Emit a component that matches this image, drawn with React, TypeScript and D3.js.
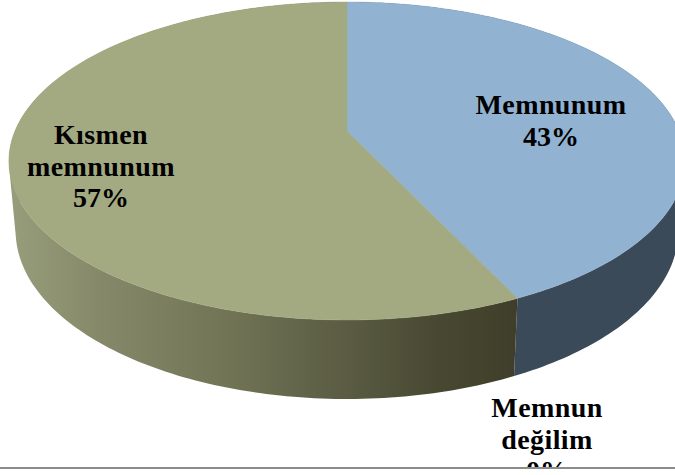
import React from "react";
import * as d3 from "d3";

const categories = ["Memnunum", "Memnun değilim", "Kısmen memnunum"];
const values = [43, 0, 57];
const percentLabels = ["43%", "0%", "57%"];
const labelLines = [["Memnunum"], ["Memnun", "değilim"], ["Kısmen", "memnunum"]];

const W = 675;
const H = 475;
const cx = 347;
const topY = 131;
const A = 332;
const B = 153.3;
const K = 0.1887;
const bottomScaleX = 0.98;
const bottomScaleY = 1.057;
const bottomY = 199.3;

const labelAnchors = [
  { x: 551, y: 114 },
  { x: 547, y: 417 },
  { x: 101, y: 144 },
];
const lineGap = 31.7;

function project(theta: number, y0: number, sx: number, sy: number): [number, number] {
  const u = Math.sin(theta);
  const v = Math.cos(theta);
  const d = 1 + K * v;
  return [cx + (sx * A * u) / d, y0 - (sy * B * v) / d];
}

function angles(a0: number, a1: number) {
  const n = Math.max(2, Math.ceil(((a1 - a0) / (2 * Math.PI)) * 360));
  return d3.range(n + 1).map((i) => a0 + ((a1 - a0) * i) / n);
}

const line = d3.line();

// The wall is the union of small quads swept between the top rim and the bottom rim.
function wallPath(a0: number, a1: number) {
  const ts = angles(a0, a1);
  const parts: string[] = [];
  for (let i = 0; i < ts.length - 1; i++) {
    const quad: [number, number][] = [
      project(ts[i], topY, 1, 1),
      project(ts[i + 1], topY, 1, 1),
      project(ts[i + 1], bottomY, bottomScaleX, bottomScaleY),
      project(ts[i], bottomY, bottomScaleX, bottomScaleY),
    ];
    if (d3.polygonArea(quad) < 0) quad.reverse();
    parts.push(line(quad) + "Z");
  }
  return parts.join("");
}

export default function App() {
  const arcs = d3.pie<number>().sort(null).startAngle(0).endAngle(2 * Math.PI)(values);
  const topFill = ["#91b2d1", "#a05a58", "#a3aa82"];
  const wallFill = ["#3a4a58", "#5a3030", "url(#oliveWall)"];

  return (
    <svg
      width={W}
      height={H}
      viewBox={`0 0 ${W} ${H}`}
      style={{ position: "absolute", left: 0, top: 0, display: "block", background: "#fff" }}
    >
      <defs>
        <linearGradient id="oliveWall" gradientUnits="userSpaceOnUse" x1="12" y1="0" x2="516" y2="0">
          <stop offset="0" stopColor="#979c7a" />
          <stop offset="0.175" stopColor="#858969" />
          <stop offset="0.4" stopColor="#747757" />
          <stop offset="0.6" stopColor="#606248" />
          <stop offset="0.85" stopColor="#484832" />
          <stop offset="1" stopColor="#3e3e2a" />
        </linearGradient>
      </defs>
      {arcs.map((a, i) =>
        a.endAngle > a.startAngle ? (
          <path key={`wall-${categories[i]}`} fill={wallFill[i]} d={wallPath(a.startAngle, a.endAngle)} />
        ) : null
      )}
      {arcs.map((a, i) =>
        a.endAngle > a.startAngle ? (
          <path
            key={`top-${categories[i]}`}
            fill={topFill[i]}
            stroke={topFill[i]}
            strokeWidth={0.5}
            d={
              line([
                [cx, topY],
                ...angles(a.startAngle, a.endAngle).map((t) => project(t, topY, 1, 1)),
              ]) + "Z"
            }
          />
        ) : null
      )}
      {categories.map((c, i) => (
        <text
          key={c}
          x={labelAnchors[i].x}
          y={labelAnchors[i].y}
          textAnchor="middle"
          fontFamily="'Liberation Serif', serif"
          fontWeight="bold"
          fontSize={28}
          letterSpacing={0.4}
          fill="#000"
        >
          {[...labelLines[i], percentLabels[i]].map((t, j) => (
            <tspan
              key={j}
              x={labelAnchors[i].x}
              dy={j === 0 ? 0 : lineGap}
              letterSpacing={j === labelLines[i].length ? 0 : undefined}
            >
              {t}
            </tspan>
          ))}
        </text>
      ))}
      <rect x={0} y={467} width={W} height={H - 467} fill="#fff" />
      <rect x={0} y={467} width={W} height={2} fill="#8c8c8c" />
    </svg>
  );
}
